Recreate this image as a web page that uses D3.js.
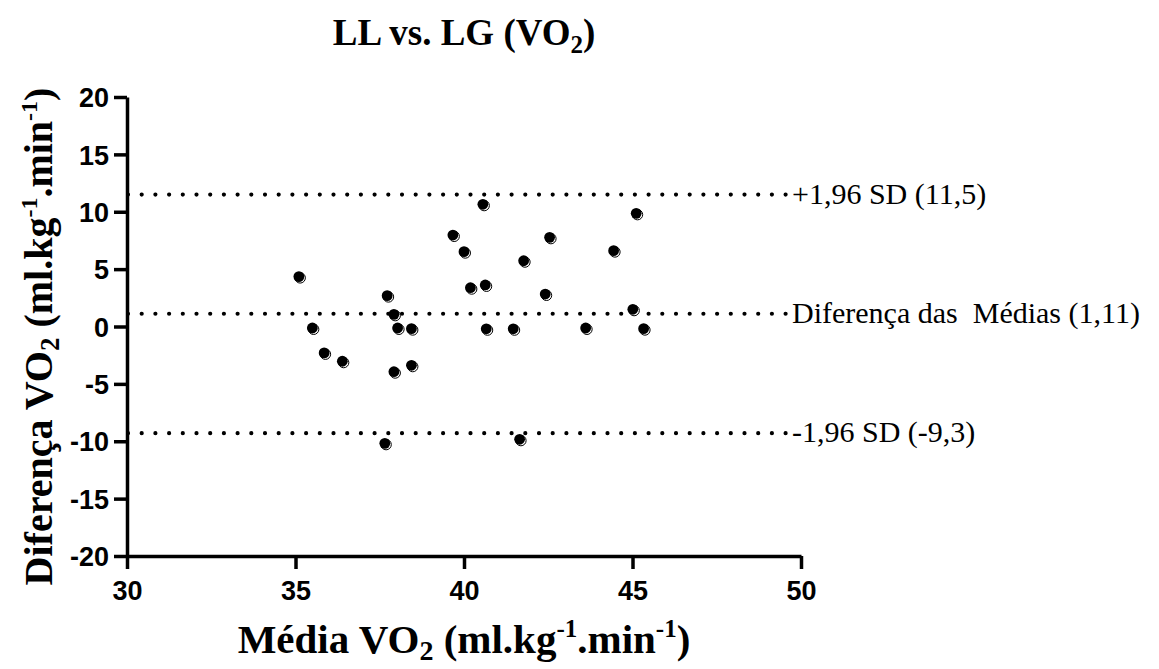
<!DOCTYPE html>
<html>
<head>
<meta charset="utf-8">
<script src="https://cdn.jsdelivr.net/npm/d3@7/dist/d3.min.js"></script>
<style>
  html, body { margin: 0; padding: 0; background: #fff; }
  svg { display: block; }
</style>
</head>
<body>
<svg id="chart" width="1159" height="669"></svg>
<script>
// ---- data ----
const meanVO2 = [35.1, 35.5, 35.85, 36.39, 37.72, 37.92, 38.03, 38.44, 37.92, 38.44, 37.65,
                 39.67, 40.0, 40.19, 40.63, 40.56, 40.66, 41.46, 41.77, 41.65, 42.41, 42.54,
                 43.61, 44.44, 45.01, 45.11, 45.33];
const diffVO2 = [4.35, -0.13, -2.3, -3.03, 2.69, 1.06, -0.13, -0.19, -3.94, -3.38, -10.18,
                 7.97, 6.52, 3.38, 3.62, 10.65, -0.2, -0.2, 5.73, -9.83, 2.83, 7.77,
                 -0.13, 6.61, 1.5, 9.86, -0.19];
const xTicks = [30, 35, 40, 45, 50];
const yTicks = [-20, -15, -10, -5, 0, 5, 10, 15, 20];
const refValues = [11.5, 1.11, -9.3];
const refLabels = ["+1,96 SD (11,5)", "Diferença das  Médias (1,11)", "-1,96 SD (-9,3)"];

// ---- layout ----
const svg = d3.select("#chart");
const x = d3.scaleLinear().domain([30, 50]).range([127, 801]);
const y = d3.scaleLinear().domain([-20, 20]).range([556, 97]);

const tickFont = "'Liberation Sans', Arial, sans-serif";
const serif = "'Liberation Serif', 'Times New Roman', serif";
const fmt = d => String(d);

// axes
const xAxis = svg.append("g")
  .attr("transform", `translate(0,${y(-20)})`)
  .call(d3.axisBottom(x).tickValues(xTicks).tickFormat(fmt).tickSize(13).tickPadding(8).tickSizeOuter(0));
const yAxis = svg.append("g")
  .attr("transform", `translate(${x(30)},0)`)
  .call(d3.axisLeft(y).tickValues(yTicks).tickFormat(fmt).tickSize(13).tickPadding(5).tickSizeOuter(0));

[xAxis, yAxis].forEach(g => {
  g.attr("font-size", null).attr("font-family", null);
  g.select(".domain").attr("stroke", "#000").attr("stroke-width", 3.5);
  g.selectAll(".tick line").attr("stroke", "#000").attr("stroke-width", 3.5);
  g.selectAll(".tick text")
    .attr("fill", "#000")
    .style("font-family", tickFont)
    .style("font-weight", "bold")
    .style("font-size", "27px");
});
xAxis.selectAll(".tick text").attr("dy", "0.85em");
yAxis.selectAll(".tick text").attr("dy", "0.36em");

// reference dotted lines
const xEnd = 786;
svg.append("g").selectAll("line")
  .data(refValues).join("line")
  .attr("x1", x(30) + 1)
  .attr("x2", xEnd)
  .attr("y1", d => y(d))
  .attr("y2", d => y(d))
  .attr("stroke", "#000")
  .attr("stroke-width", 4.2)
  .attr("stroke-linecap", "round")
  .attr("stroke-dasharray", "0 13.7");

// reference labels
svg.append("g").selectAll("text")
  .data(refValues).join("text")
  .attr("x", xEnd + 6)
  .attr("y", d => y(d) + 9)
  .style("font-family", serif)
  .style("font-size", "30px")
  .style("white-space", "pre")
  .attr("fill", "#000")
  .text((d, i) => refLabels[i]);

// points: black disc with offset outline ring
const pts = svg.append("g");
pts.selectAll("circle.back")
  .data(meanVO2).join("circle")
  .attr("class", "back")
  .attr("cx", d => x(d) + 1.3)
  .attr("cy", (d, i) => y(diffVO2[i]) + 1.3)
  .attr("r", 5.2)
  .attr("fill", "#fff")
  .attr("stroke", "#000")
  .attr("stroke-width", 1);
pts.selectAll("circle.front")
  .data(meanVO2).join("circle")
  .attr("class", "front")
  .attr("cx", d => x(d))
  .attr("cy", (d, i) => y(diffVO2[i]))
  .attr("r", 5.4)
  .attr("fill", "#000");

// title
const title = svg.append("text")
  .attr("x", (x(30) + x(50)) / 2)
  .attr("y", 45)
  .attr("text-anchor", "middle")
  .style("font-family", serif)
  .style("font-weight", "bold")
  .style("font-size", "37px");
title.append("tspan").text("LL vs. LG (VO");
title.append("tspan").text("2").style("font-size", "25px").attr("dy", 8);
title.append("tspan").text(")").attr("dy", -8);

// axis label helper
function unitLabel(sel, main, size) {
  const sub = Math.round(size * 0.68), sup = Math.round(size * 0.6);
  sel.append("tspan").text(main + " VO");
  sel.append("tspan").text("2").style("font-size", sub + "px").attr("dy", size * 0.18);
  sel.append("tspan").text(" (ml.kg").attr("dy", -size * 0.18);
  sel.append("tspan").text("-1").style("font-size", sup + "px").attr("dy", -size * 0.38);
  sel.append("tspan").text(".min").attr("dy", size * 0.38);
  sel.append("tspan").text("-1").style("font-size", sup + "px").attr("dy", -size * 0.38);
  sel.append("tspan").text(")").attr("dy", size * 0.38);
}

const xLab = svg.append("text")
  .attr("x", (x(30) + x(50)) / 2)
  .attr("y", 653)
  .attr("text-anchor", "middle")
  .style("font-family", serif)
  .style("font-weight", "bold")
  .style("font-size", "41px");
unitLabel(xLab, "Média", 41);

const yLab = svg.append("text")
  .attr("transform", `translate(52,${(y(-20) + y(20)) / 2 + 10}) rotate(-90)`)
  .attr("text-anchor", "middle")
  .style("font-family", serif)
  .style("font-weight", "bold")
  .style("font-size", "40px");
unitLabel(yLab, "Diferença", 40);
</script>
</body>
</html>
